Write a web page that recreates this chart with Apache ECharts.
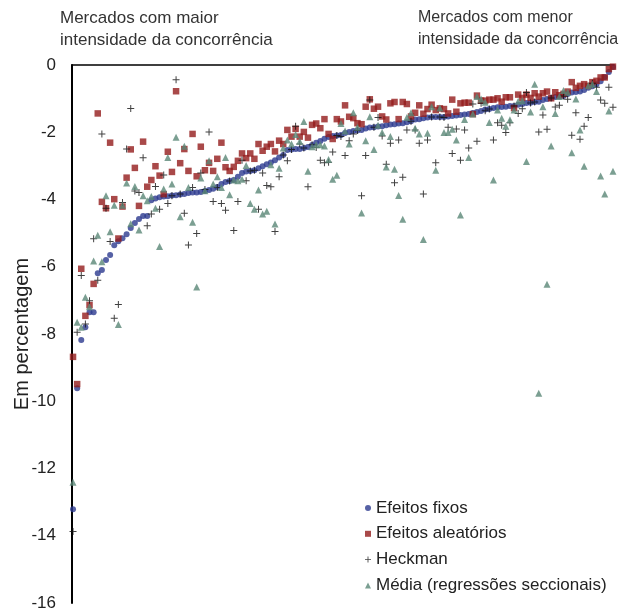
<!DOCTYPE html>
<html>
<head>
<meta charset="utf-8">
<script src="https://cdn.jsdelivr.net/npm/echarts@6/dist/echarts.min.js"></script>
<style>
html,body{margin:0;padding:0;background:#fff;}
#chart{width:619px;height:614px;}
</style>
</head>
<body>
<div id="chart"></div>
<script>
// Markets ordered by fixed-effects estimate (rank index 0..131)
const seriesNames = ["Efeitos fixos", "Efeitos aleatórios", "Heckman", "Média (regressões seccionais)"];
const headerLeft = "Mercados com maior\nintensidade da concorrência";
const headerRight = "Mercados com menor\nintensidade da concorrência";
const yTicks = [0, -2, -4, -6, -8, -10, -12, -14, -16];

const efeitosFixos = [
 -13.21,-9.61,-8.18,-7.80,-7.35,-7.35,-6.19,-6.10,-5.80,-5.65,
 -5.36,-5.24,-5.15,-5.03,-4.85,-4.70,-4.58,-4.49,-4.49,-4.02,
 -3.97,-3.93,-3.91,-3.90,-3.88,-3.87,-3.85,-3.84,-3.81,-3.79,
 -3.79,-3.78,-3.75,-3.72,-3.68,-3.63,-3.54,-3.48,-3.45,-3.42,
 -3.32,-3.21,-3.17,-3.15,-3.13,-3.07,-3.01,-2.95,-2.90,-2.83,
 -2.75,-2.68,-2.53,-2.51,-2.50,-2.50,-2.47,-2.44,-2.38,-2.31,
 -2.26,-2.19,-2.14,-2.11,-2.10,-2.08,-2.02,-1.99,-1.96,-1.95,
 -1.93,-1.89,-1.86,-1.85,-1.83,-1.82,-1.79,-1.77,-1.76,-1.74,
 -1.73,-1.70,-1.67,-1.62,-1.61,-1.58,-1.56,-1.55,-1.55,-1.55,
 -1.55,-1.53,-1.52,-1.50,-1.49,-1.47,-1.46,-1.43,-1.40,-1.37,
 -1.32,-1.31,-1.28,-1.26,-1.25,-1.24,-1.22,-1.22,-1.18,-1.16,
 -1.13,-1.12,-1.10,-1.09,-1.04,-1.01,-0.98,-0.95,-0.94,-0.92,
 -0.86,-0.82,-0.80,-0.79,-0.74,-0.68,-0.63,-0.57,-0.48,-0.36,
 -0.21,-0.06
];

const efeitosAleatorios = [
 -8.68,-9.49,-6.06,-7.46,-7.14,-6.51,-1.44,-4.07,-4.26,-2.31,
 -3.99,-5.16,-4.21,-3.35,-2.51,-3.06,-4.19,-2.28,-3.62,-3.42,
 -3.01,-3.29,-3.84,-2.58,-3.18,-0.78,-2.92,-2.50,-3.15,-2.05,
 -3.31,-2.43,-3.13,-2.91,-3.15,-2.79,-2.31,-3.04,-3.15,-3.03,
 -2.85,-2.63,-2.77,-2.63,-2.79,-2.35,-2.55,-2.43,-2.35,-2.57,
 -2.25,-2.35,-1.93,-2.13,-1.90,-2.13,-1.99,-2.16,-1.78,-1.74,
 -1.88,-1.61,-2.05,-2.20,-1.61,-1.68,-1.20,-1.54,-1.58,-1.73,
 -1.76,-1.24,-1.02,-1.30,-1.24,-1.53,-1.62,-1.14,-1.10,-1.61,
 -1.10,-1.16,-1.53,-1.42,-1.20,-1.45,-1.31,-1.18,-1.34,-1.29,
 -1.31,-1.44,-1.03,-1.39,-1.14,-1.12,-1.12,-1.46,-0.91,-1.06,
 -1.06,-1.03,-1.03,-0.99,-1.09,-0.96,-0.96,-1.28,-0.88,-0.98,
 -0.88,-0.98,-0.84,-0.94,-0.84,-0.79,-0.99,-0.81,-0.90,-0.86,
 -0.79,-0.51,-0.68,-0.62,-0.57,-0.62,-0.51,-0.47,-0.37,-0.37,
 -0.12,-0.05
];

const heckman = [
 -13.87,-7.95,-6.26,-7.70,-7.01,-5.17,-6.40,-2.05,-4.26,-5.25,
 -7.53,-7.12,-4.09,-2.50,-1.29,-3.75,-3.79,-2.76,-4.78,-4.43,
 -3.61,-4.29,-3.27,-4.12,-3.89,-0.44,-3.84,-4.41,-5.35,-3.64,
 -5.01,-3.21,-3.70,-1.99,-4.06,-3.64,-4.12,-4.32,-3.45,-4.92,
 -4.06,-2.83,-3.44,-3.15,-3.13,-4.29,-3.21,-3.58,-3.62,-4.95,
 -3.32,-2.68,-2.85,-2.51,-1.82,-2.35,-2.47,-3.62,-2.37,-2.45,
 -2.83,-2.91,-2.89,-2.59,-2.10,-2.13,-2.69,-2.25,-2.05,-1.95,
 -3.89,-2.69,-1.04,-1.85,-1.56,-2.11,-2.95,-2.33,-3.50,-2.23,
 -3.34,-1.93,-1.67,-1.93,-2.33,-3.84,-2.23,-1.55,-2.91,-1.55,
 -1.56,-1.85,-2.63,-1.90,-2.83,-1.93,-2.47,-1.16,-2.27,-1.14,
 -1.36,-1.31,-2.23,-1.72,-1.79,-2.01,-1.72,-1.22,-1.44,-1.30,
 -0.82,-1.13,-1.10,-1.99,-1.49,-1.91,-0.98,-1.25,-1.20,-0.92,
 -1.02,-2.09,-1.42,-2.21,-1.82,-1.56,-0.54,-0.66,-1.04,-1.14,
 -0.66,-1.26
];

const mediaSeccionais = [
 -12.41,-7.65,-7.80,-6.91,-7.19,-5.83,-5.06,-5.85,-3.89,-4.96,
 -4.17,-7.72,-4.17,-3.51,-4.72,-3.61,-4.91,-3.89,-4.04,-3.91,
 -4.26,-5.40,-3.69,-2.75,-3.54,-2.15,-4.51,-2.42,-3.64,-4.68,
 -6.60,-3.36,-3.74,-2.85,-3.54,-3.32,-3.64,-2.75,-3.86,-3.42,
 -3.44,-3.40,-2.99,-4.12,-4.29,-3.72,-4.43,-4.35,-2.97,-4.73,
 -3.07,-2.47,-2.23,-2.35,-2.07,-2.27,-1.68,-3.16,-2.43,-2.37,
 -2.37,-2.41,-2.81,-3.40,-3.28,-1.74,-1.96,-2.35,-1.42,-1.85,
 -4.40,-2.25,-1.54,-2.51,-1.79,-2.01,-3.03,-2.13,-3.10,-3.88,
 -4.59,-1.56,-1.42,-1.88,-2.05,-5.19,-2.03,-1.24,-3.13,-1.28,
 -2.01,-2.01,-1.91,-2.23,-4.46,-1.62,-2.75,-1.46,-0.94,-1.01,
 -1.11,-1.71,-3.42,-1.34,-1.58,-1.82,-1.63,-1.34,-1.08,-1.06,
 -2.87,-1.40,-0.57,-9.76,-1.24,-6.52,-2.41,-1.44,-0.94,-0.76,
 -0.81,-2.61,-1.01,-1.93,-3.01,-0.62,-0.57,-0.79,-3.30,-3.84,
 -1.37,-3.16
];

const FONT = "'Liberation Sans', Arial, sans-serif";
const plusPath = 'path://M3,0H4V3H7V4H4V7H3V4H0V3H3Z';
const toPairs = arr => arr.map((v, i) => [i, v]);

const chart = echarts.init(document.getElementById('chart'), null, {renderer: 'canvas'});
chart.setOption({
  animation: false,
  backgroundColor: '#ffffff',
  textStyle: {fontFamily: FONT},
  title: [
    {text: headerLeft, left: 60, top: 7, padding: 0,
     textStyle: {fontSize: 17, fontWeight: 'normal', color: '#333', lineHeight: 22, fontFamily: FONT}},
    {text: headerRight, left: 418, top: 7, padding: 0,
     textStyle: {fontSize: 16, fontWeight: 'normal', color: '#333', lineHeight: 22, fontFamily: FONT}}
  ],
  grid: {left: 72, right: 5, top: 65, bottom: 11, containLabel: false, outerBoundsMode: 'none'},
  legend: {
    orient: 'vertical', left: 360, top: 493,
    itemWidth: 6, itemHeight: 6, itemGap: 5.8,
    textStyle: {fontSize: 17, color: '#222', lineHeight: 20, fontFamily: FONT},
    data: seriesNames
  },
  xAxis: {
    type: 'value', position: 'top', min: -0.25, max: 131.25,
    axisLine: {show: true, onZero: false, lineStyle: {color: '#000', width: 1.5}},
    axisTick: {show: false}, axisLabel: {show: false}, splitLine: {show: false}
  },
  yAxis: {
    type: 'value', min: -16, max: 0, interval: 2,
    name: 'Em percentagem', nameLocation: 'middle', nameRotate: 90, nameGap: 40,
    nameMoveOverlap: false,
    nameTextStyle: {fontSize: 20, color: '#222', fontFamily: FONT},
    axisLine: {show: true, onZero: false, lineStyle: {color: '#000', width: 2}},
    axisTick: {show: false},
    axisLabel: {fontSize: 17, color: '#222', margin: 16, fontFamily: FONT},
    splitLine: {show: false}
  },
  series: [
    {name: seriesNames[0], type: 'scatter', symbol: 'circle', symbolSize: 6,
     itemStyle: {color: '#2C3A8E'}, data: toPairs(efeitosFixos)},
    {name: seriesNames[1], type: 'scatter', symbol: 'rect', symbolSize: 6.5,
     itemStyle: {color: '#931C1C'}, data: toPairs(efeitosAleatorios)},
    {name: seriesNames[2], type: 'scatter', symbol: plusPath, symbolSize: 7,
     itemStyle: {color: '#111'}, data: toPairs(heckman)},
    {name: seriesNames[3], type: 'scatter', symbol: 'triangle', symbolSize: 7,
     itemStyle: {color: '#5A8777'}, data: toPairs(mediaSeccionais)}
  ]
});
</script>
</body>
</html>
